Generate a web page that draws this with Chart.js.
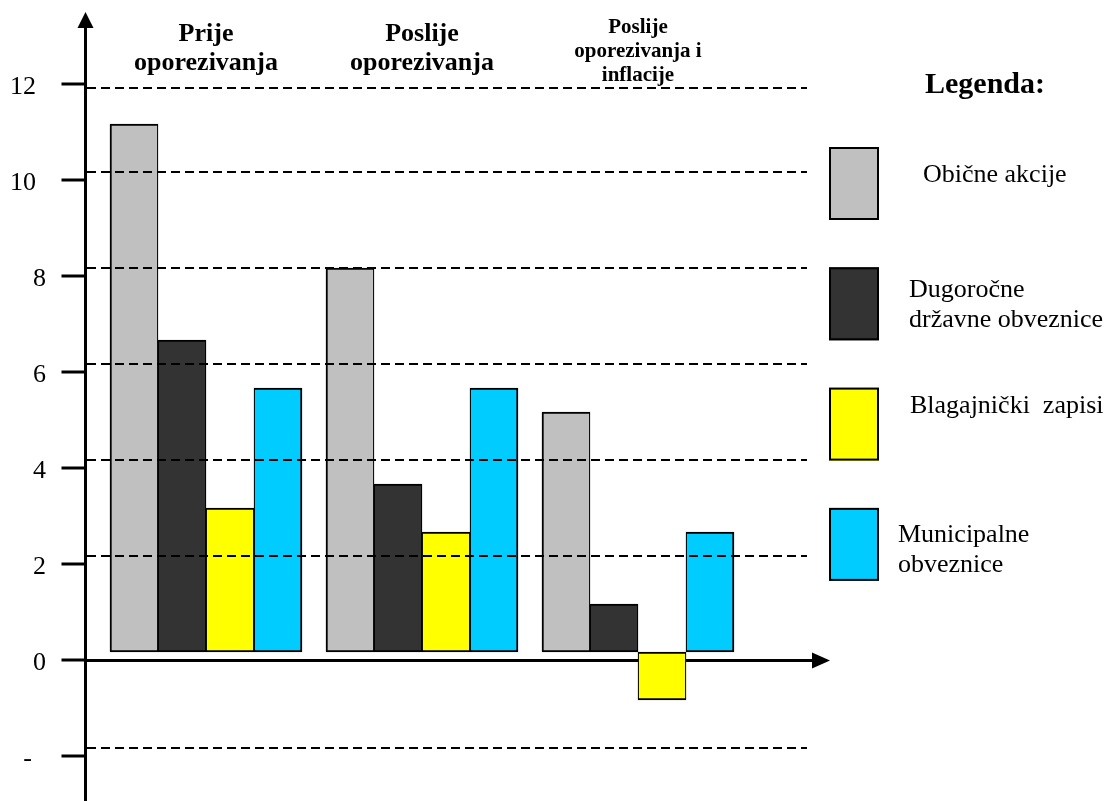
<!DOCTYPE html>
<html>
<head>
<meta charset="utf-8">
<title>Prinosi prije i poslije oporezivanja</title>
<script src="https://cdn.jsdelivr.net/npm/chart.js@4/dist/chart.umd.min.js"></script>
<style>
  html, body { margin: 0; padding: 0; background: #ffffff; }
  canvas { display: block; }
</style>
</head>
<body>
<canvas id="chart" width="1110" height="801"></canvas>
<script>
// Group headings (one entry per category, one string per line)
const groupHeadings = [
  ['Prije', 'oporezivanja'],
  ['Poslije', 'oporezivanja'],
  ['Poslije', 'oporezivanja i', 'inflacije']
];

// Series names (legend lines)
const seriesNames = [
  ['Obične akcije'],
  ['Dugoročne', 'državne obveznice'],
  ['Blagajnički  zapisi'],
  ['Municipalne', 'obveznice']
];

// Values per series, in group order
const obicneAkcije        = [11, 8, 5];
const drzavneObveznice    = [6.5, 3.5, 1];
const blagajnickiZapisi   = [3, 2.5, -1];
const municipalneObveznice = [5.5, 5.5, 2.5];

// Left axis ticks and their labels
const tickValues = [12, 10, 8, 6, 4, 2, 0, -2];
const tickLabels = ['12', '10', '8', '6', '4', '2', '0', '-'];

// Levels of the dashed guide lines
const gridLevels = [11.75, 10, 8, 6, 4, 2, -2];

const seriesColors = ['#c0c0c0', '#333333', '#ffff00', '#00ccff'];
const SERIF = "'Liberation Serif', 'Times New Roman', serif";

// Border widths so that neighbouring bars share a single line
const borderSides = [
  { top: 2, bottom: 2, left: 2, right: 1.25 },
  { top: 2, bottom: 2, left: 1.25, right: 1.25 },
  { top: 2, bottom: 2, left: 1.25, right: 1.25 },
  { top: 2, bottom: 2, left: 1.25, right: 2 }
];

const seriesValues = [obicneAkcije, drzavneObveznice, blagajnickiZapisi, municipalneObveznice];

const datasets = seriesValues.map((values, i) => ({
  label: seriesNames[i].join(' '),
  data: values,
  backgroundColor: seriesColors[i],
  borderColor: '#000000',
  borderWidth: borderSides[i],
  borderSkipped: false,
  barThickness: 48
}));

// Legend text placement relative to each swatch (left, top)
const legendText = [
  { dx: 94, dy: 35 },
  { dx: 80, dy: 30 },
  { dx: 81, dy: 25 },
  { dx: 69, dy: 34 }
];

const decorations = {
  id: 'decorations',
  beforeDatasetsDraw(chart) {
    const { ctx, chartArea: area, scales } = chart;
    const yT = scales.yAxisTicks;
    const axisX = area.left - 12.5;
    const zeroY = yT.getPixelForValue(0) + 0.5;

    ctx.save();
    ctx.strokeStyle = '#000';
    ctx.fillStyle = '#000';
    ctx.lineWidth = 3;

    // vertical axis with arrow
    ctx.beginPath();
    ctx.moveTo(axisX, chart.height);
    ctx.lineTo(axisX, 26);
    ctx.stroke();
    ctx.beginPath();
    ctx.moveTo(axisX, 12);
    ctx.lineTo(axisX - 8, 28);
    ctx.lineTo(axisX + 8, 28);
    ctx.closePath();
    ctx.fill();

    // horizontal axis with arrow
    const tipX = area.right + 84;
    ctx.beginPath();
    ctx.moveTo(axisX - 1.5, zeroY);
    ctx.lineTo(tipX - 16, zeroY);
    ctx.stroke();
    ctx.beginPath();
    ctx.moveTo(tipX, zeroY);
    ctx.lineTo(tipX - 18, zeroY - 8);
    ctx.lineTo(tipX - 18, zeroY + 8);
    ctx.closePath();
    ctx.fill();

    // tick marks and labels
    ctx.font = '26px ' + SERIF;
    ctx.textAlign = 'right';
    ctx.textBaseline = 'alphabetic';
    tickValues.forEach((v, i) => {
      const y = Math.round(yT.getPixelForValue(v));
      ctx.beginPath();
      ctx.moveTo(axisX - 24, y);
      ctx.lineTo(axisX, y);
      ctx.stroke();
      const s = tickLabels[i];
      const right = s.length > 1 ? 36 : (s === '-' ? 32 : 46);
      ctx.fillText(s, right, y + 10);
    });
    ctx.restore();
  },
  afterDatasetsDraw(chart) {
    const { ctx, chartArea: area, scales } = chart;
    const y = scales.y;
    const x = scales.x;

    ctx.save();
    // dashed guide lines over the bars
    ctx.strokeStyle = '#000';
    ctx.lineWidth = 2;
    ctx.setLineDash([9, 5]);
    gridLevels.forEach(v => {
      const py = y.getPixelForValue(v);
      ctx.beginPath();
      ctx.moveTo(area.left - 11, py);
      ctx.lineTo(area.right + 61, py);
      ctx.stroke();
    });
    ctx.setLineDash([]);

    // group headings centred over each group
    ctx.fillStyle = '#000';
    ctx.textAlign = 'center';
    ctx.textBaseline = 'alphabetic';
    groupHeadings.forEach((lines, i) => {
      const cx = x.getPixelForValue(i);
      const small = lines.length > 2;
      ctx.font = 'bold ' + (small ? 21 : 26) + 'px ' + SERIF;
      const top = small ? 33 : 41;
      const step = small ? 24 : 29;
      lines.forEach((line, j) => ctx.fillText(line, cx, top + j * step));
    });

    // legend
    ctx.font = 'bold 30px ' + SERIF;
    ctx.fillText('Legenda:', 985, 93);
    ctx.textAlign = 'left';
    ctx.font = '26px ' + SERIF;
    chart.data.datasets.forEach((ds, i) => {
      const bx = 829, by = 147 + i * 120.3;
      ctx.fillStyle = ds.backgroundColor;
      ctx.fillRect(bx, by, 50, 73);
      ctx.strokeStyle = '#000';
      ctx.lineWidth = 2;
      ctx.strokeRect(bx + 1, by + 1, 48, 71);
      ctx.fillStyle = '#000';
      seriesNames[i].forEach((line, j) => {
        ctx.fillText(line, bx + legendText[i].dx, by + legendText[i].dy + j * 30);
      });
    });
    ctx.restore();
  }
};

new Chart(document.getElementById('chart'), {
  type: 'bar',
  data: {
    labels: groupHeadings.map(l => l.join(' ')),
    datasets: datasets
  },
  options: {
    responsive: false,
    devicePixelRatio: 1,
    animation: false,
    layout: { padding: { left: 98, right: 364, top: 28, bottom: 5 } },
    plugins: {
      legend: { display: false },
      tooltip: { enabled: false },
      title: { display: false }
    },
    scales: {
      x: { type: 'category', display: false, offset: true },
      y: { type: 'linear', display: false, min: -3, max: 13 },
      yAxisTicks: { type: 'linear', display: false, position: 'left', min: -17 / 6, max: 79 / 6 }
    }
  },
  plugins: [decorations]
});
</script>
</body>
</html>
